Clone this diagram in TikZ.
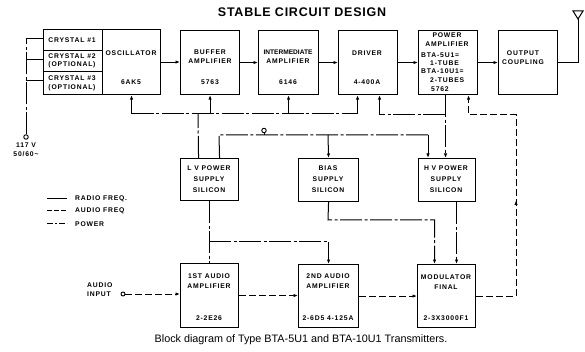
\documentclass[tikz,border=0pt]{standalone}
\usepackage{fontspec}
\setmainfont{Liberation Sans}
\newfontfamily\boxfont[LetterSpace=12]{Liberation Sans}
\newfontfamily\titlefont[LetterSpace=6]{Liberation Sans}
\usetikzlibrary{arrows.meta,decorations.markings}
\begin{document}
\begin{tikzpicture}[x=1pt,y=-1pt,
  box/.style={draw, line width=1.1pt, inner sep=0pt, anchor=north west},
  lbl/.style={font=\boxfont\bfseries\fontsize{6.8}{7}\selectfont, inner sep=0pt},
  lbll/.style={lbl, anchor=west},
  conn/.style={line width=1pt},
  rf/.style={conn},
  af/.style={conn, dash pattern=on 7pt off 3pt},
  pw/.style={conn, dash pattern=on 22pt off 2.5pt on 3pt off 2.5pt},
  arr/.style={-{Latex[length=4.5pt,width=3.4pt]}},
  term/.style={circle, draw, line width=0.9pt, minimum size=4.5pt, inner sep=0pt},
]
\useasboundingbox[fill=white] (0,0) rectangle (585,352);

% title
\node[font=\titlefont\bfseries\fontsize{12.5}{13}\selectfont, inner sep=0pt] (title) at (302,12) {STABLE CIRCUIT DESIGN};

% top row boxes
\node[box, minimum width=59pt, minimum height=21pt] (cr1) at (43,29) {};
\node[box, minimum width=59pt, minimum height=21pt] (cr2) at (43,50) {};
\node[box, minimum width=59pt, minimum height=23pt] (cr3) at (43,71) {};
\node[box, minimum width=58pt, minimum height=65pt] (osc) at (102,29) {};
\node[box, minimum width=59pt, minimum height=64pt] (buf) at (180,30) {};
\node[box, minimum width=60pt, minimum height=64pt] (ipa) at (258,30) {};
\node[box, minimum width=59pt, minimum height=64pt] (drv) at (338,30) {};
\node[box, minimum width=59pt, minimum height=64pt] (pa) at (418,30) {};
\node[box, minimum width=59pt, minimum height=64pt] (out) at (498,30) {};
% supplies
\node[box, minimum width=58pt, minimum height=42pt] (lv) at (180,158) {};
\node[box, minimum width=60pt, minimum height=43pt] (bias) at (298,158) {};
\node[box, minimum width=57pt, minimum height=43pt] (hv) at (418,158) {};
% audio row
\node[box, minimum width=58pt, minimum height=64pt] (aud1) at (180,263) {};
\node[box, minimum width=60pt, minimum height=63pt] (aud2) at (298,264) {};
\node[box, minimum width=58pt, minimum height=63pt] (mod) at (417,264) {};

% box texts
\node[lbl] (t-cr1) at (72,40) {CRYSTAL \#1};
\node[lbl] (t-cr2a) at (72,56) {CRYSTAL \#2};
\node[lbl] (t-cr2b) at (72,65) {(OPTIONAL)};
\node[lbl] (t-cr3a) at (72,78) {CRYSTAL \#3};
\node[lbl] (t-cr3b) at (72,88) {(OPTIONAL)};
\node[lbl] (t-osc1) at (131,53) {OSCILLATOR};
\node[lbl] (t-osc2) at (131,82) {6AK5};
\node[lbl] (t-buf1) at (210,52) {BUFFER};
\node[lbl] (t-buf2) at (210,61) {AMPLIFIER};
\node[lbl] (t-buf3) at (210,82) {5763};
\node[lbl, font=\bfseries\fontsize{6.6}{7}\selectfont] (t-ipa1) at (288,52) {INTERMEDIATE};
\node[lbl] (t-ipa2) at (288,61) {AMPLIFIER};
\node[lbl] (t-ipa3) at (288,82) {6146};
\node[lbl] (t-drv1) at (367,53) {DRIVER};
\node[lbl] (t-drv2) at (367,82) {4-400A};
\node[lbl] (t-pa1) at (447,35) {POWER};
\node[lbl] (t-pa2) at (447,44) {AMPLIFIER};
\node[lbll] (t-pa3) at (421,55) {BTA-5U1=};
\node[lbll] (t-pa4) at (430,63) {1-TUBE};
\node[lbll] (t-pa5) at (421,71) {BTA-10U1=};
\node[lbll] (t-pa6) at (430,80) {2-TUBES};
\node[lbll] (t-pa7) at (431,89) {5762};
\node[lbl] (t-out1) at (523,53) {OUTPUT};
\node[lbl] (t-out2) at (523,62) {COUPLING};
\node[lbl] (t-lv1) at (209,168) {L V POWER};
\node[lbl] (t-lv2) at (209,179) {SUPPLY};
\node[lbl] (t-lv3) at (209,190) {SILICON};
\node[lbl] (t-bi1) at (328,168) {BIAS};
\node[lbl] (t-bi2) at (328,179) {SUPPLY};
\node[lbl] (t-bi3) at (328,190) {SILICON};
\node[lbl] (t-hv1) at (446,168) {H V POWER};
\node[lbl] (t-hv2) at (446,179) {SUPPLY};
\node[lbl] (t-hv3) at (446,190) {SILICON};
\node[lbl] (t-a11) at (209,276) {1ST AUDIO};
\node[lbl] (t-a12) at (209,286) {AMPLIFIER};
\node[lbl] (t-a13) at (209,318) {2-2E26};
\node[lbl] (t-a21) at (328,276) {2ND AUDIO};
\node[lbl] (t-a22) at (328,286) {AMPLIFIER};
\node[lbl] (t-a23) at (328,318) {2-6D5 4-125A};
\node[lbl] (t-m1) at (446,277) {MODULATOR};
\node[lbl] (t-m2) at (446,287) {FINAL};
\node[lbl] (t-m3) at (446,318) {2-3X3000F1};

% RF chain
\draw[rf,arr] (osc.east) -- (osc.east -| buf.west);
\draw[rf,arr] (buf.east) -- (buf.east -| ipa.west);
\draw[rf,arr] (ipa.east) -- (ipa.east -| drv.west);
\draw[rf,arr] (drv.east) -- (drv.east -| pa.west);
\draw[rf,arr] (pa.east) -- (pa.east -| out.west);
\coordinate (ant) at (578,19);
\draw[rf] (out.east) -- (out.east -| ant) -- (ant);
\draw[rf] (ant) -- (573,11) -- (583,11) -- cycle;

% 117 V to crystals
\node[term] (acv) at (26,137) {};
\node[lbl] (t-v1) at (26,145) {117 V};
\node[lbl] (t-v2) at (26,154) {50/60\textasciitilde};
\coordinate (c1) at (26,39);
\coordinate (c2) at (26,60);
\coordinate (c3) at (26,81);
\draw[pw] (acv.north) -- (c1) -- (c1 -| cr1.west);
\draw[pw] (c2) -- (c2 -| cr2.west);
\draw[pw] (c3) -- (c3 -| cr3.west);

% LV bus
\coordinate (lvj) at (198,114);
\draw[pw] ([xshift=-11pt]lv.north) -- (lvj);
\draw[pw] (osc.south |- lvj) -- ([xshift=-10.5pt]drv.south |- lvj);
\draw[pw,arr] (osc.south |- lvj) -- (osc.south);
\draw[pw,arr] (buf.south |- lvj) -- (buf.south);
\draw[pw,arr] (ipa.south |- lvj) -- (ipa.south);
\draw[pw,arr] ([xshift=-10.5pt]drv.south |- lvj) -- ([xshift=-10.5pt]drv.south);

% HV to PA and driver
\coordinate (hvj) at (445,115);
\draw[pw,arr] ([xshift=-2.5pt]pa.south) -- ([xshift=-1.5pt]hv.north);
\draw[pw,arr] (hvj) -| ([xshift=11.5pt]drv.south);

% modulator to PA
\coordinate (modr) at (516,115);
\draw[af,arr,
  postaction={decorate, decoration={markings, mark=at position 0.47 with {\arrow{Latex[length=4.5pt,width=3.4pt]}}}}]
  (mod.east) -| (modr) -| ([xshift=20.5pt]pa.south);

% AC line
\coordinate (acL) at (219,135);
\coordinate (acR) at (428,135);
\coordinate (acB) at (328,135);
\draw[pw] ([xshift=10pt]lv.north) -- (acL) -- (acR);
\draw[pw,arr] (acR) -- (acR |- hv.north);
\draw[pw,arr] (acB) -- (bias.north);
\node[term] (acin) at (264,130.5) {};
\draw[conn] (acin.south) -- (acin.south |- acL);

% bias and HV to modulator
\coordinate (bj) at (328,220);
\draw[pw,arr] (bias.south) -- (bj) -| ([xshift=-12pt]mod.north);
\draw[pw,arr] ([xshift=9.5pt]hv.south) -- ([xshift=9.5pt]hv.south |- mod.north);

% LV to audio amplifiers
\coordinate (lj) at (209,242);
\draw[pw] (lv.south) -- (aud1.north);
\draw[pw,arr] (lj) -| (aud2.north);

% audio chain
\node[term, minimum size=4pt] (ain) at (123,294) {};
\node[lbll] (t-ai1) at (87,285) {AUDIO};
\node[lbll] (t-ai2) at (87,294) {INPUT};
\draw[af,arr] (ain.east) -- (ain.east -| aud1.west);
\draw[af,arr] (aud1.east) -- (aud1.east -| aud2.west);
\draw[af,arr] (aud2.east) -- (aud2.east -| mod.west);

% legend
\coordinate (l1a) at (47,199); \coordinate (l1b) at (67,199);
\coordinate (l2a) at (47,211); \coordinate (l2b) at (67,211);
\coordinate (l3a) at (47,224); \coordinate (l3b) at (67,224);
\draw[rf] (l1a) -- (l1b);
\draw[conn, dash pattern=on 5pt off 2pt] (l2a) -- (l2b);
\draw[conn, dash pattern=on 6pt off 2pt on 2pt off 2pt] (l3a) -- (l3b);
\node[lbll] (t-l1) at (75,199) {RADIO FREQ.};
\node[lbll] (t-l2) at (75,211) {AUDIO FREQ};
\node[lbll] (t-l3) at (75,224) {POWER};

% caption
\node[font=\fontsize{10.8}{12}\selectfont, inner sep=0pt] (cap) at (301,340) {Block diagram of Type BTA-5U1 and BTA-10U1 Transmitters.};
\end{tikzpicture}
\end{document}
